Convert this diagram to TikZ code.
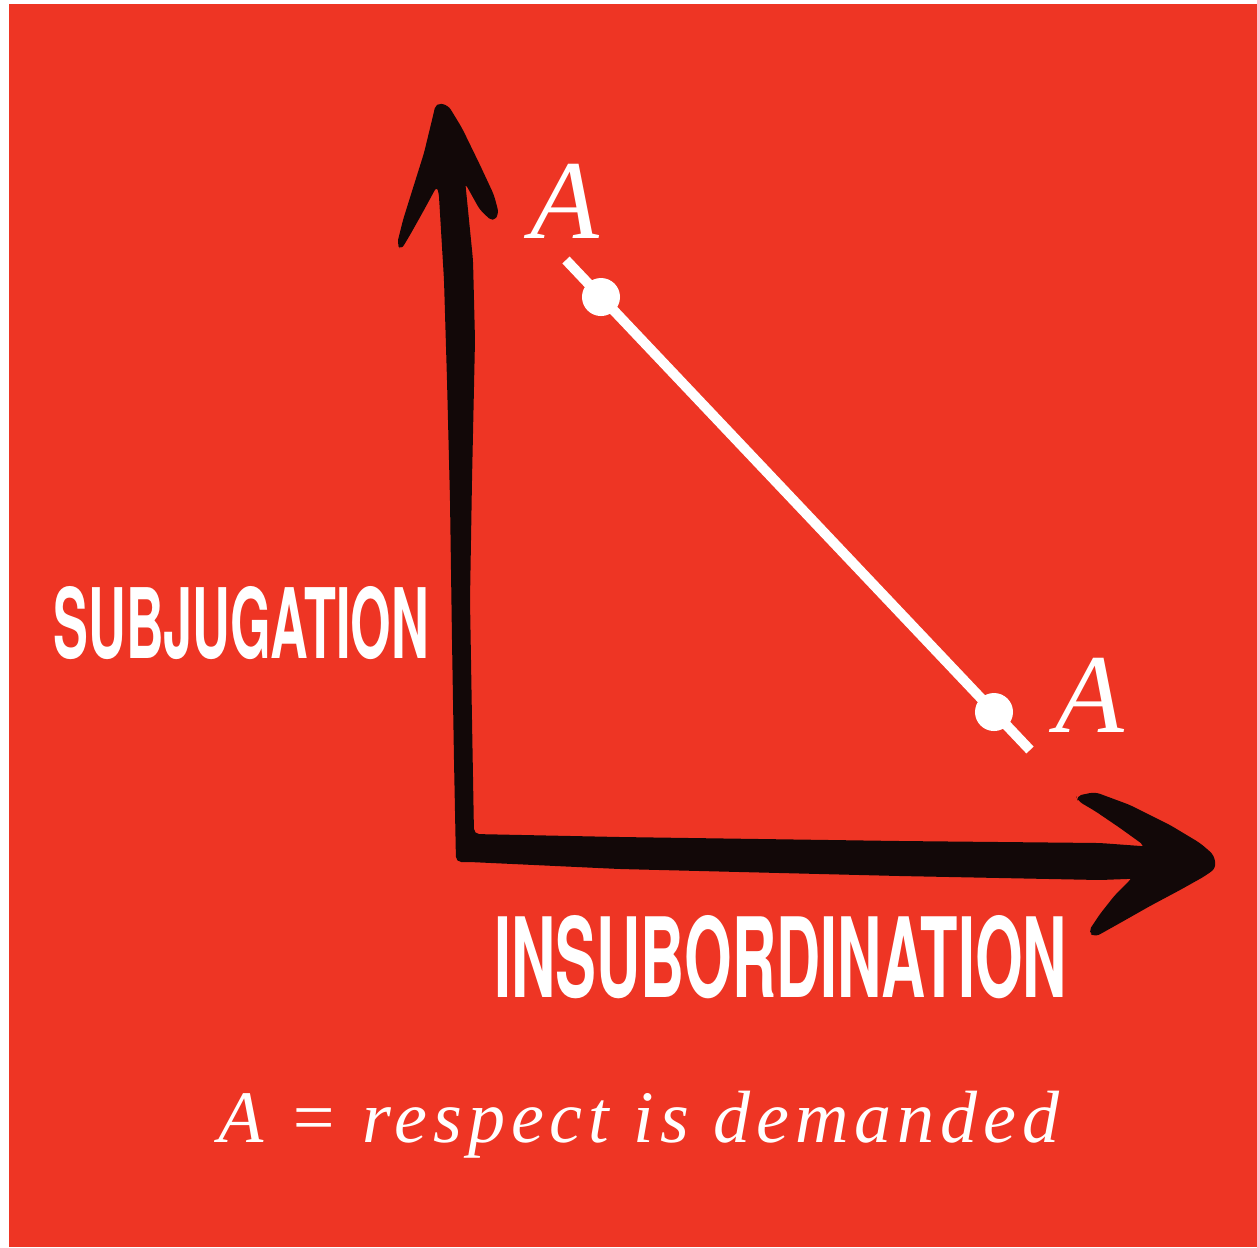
\documentclass[tikz,border=0pt]{standalone}
\usepackage{graphicx}
\usepackage{fontspec}
\setmainfont{Liberation Serif}
\newfontfamily\axisfont{TeX Gyre Heros}
\newfontfamily\capfont{Liberation Serif}[LetterSpace=8]
\usetikzlibrary{positioning}
\definecolor{bgred}{RGB}{238,53,36}
\definecolor{ink}{RGB}{18,8,8}

\begin{document}
\begin{tikzpicture}[x=0.01cm, y=-0.01cm,
  brush/.style={fill=ink, rounded corners=1.5pt},
  ptdot/.style={circle, fill=white, inner sep=0pt, minimum size=0.38cm},
  trend/.style={draw=white, line width=0.1cm},
  letterA/.style={text=white, inner sep=0pt, anchor=base, font=\fontsize{32}{34}\selectfont\itshape},
  axislbl/.style={text=white, inner sep=0pt, anchor=south west, font=\axisfont\bfseries},
  caption/.style={text=white, inner sep=0pt, anchor=base west}
]

% background
\fill[white] (0,0) rectangle (1257,1247);
\fill[bgred] (9,4) rectangle (1257,1247);

% axes, brush strokes
\fill[brush] (456,862) -- (454,760) -- (452,640) -- (450,500) -- (447,380) -- (444,280) -- (438,180) -- (465,180) -- (473,260) -- (475,340)
  -- (472,480) -- (470,600) -- (472,720) -- (474,834) -- (620,837) -- (900,841) -- (1100,843) -- (1195,850) -- (1205,876) -- (1100,880)
  -- (900,876) -- (620,869) -- (470,862) -- cycle;
\fill[brush] (436,103) -- (448,105) -- (462,128) -- (480,165) -- (494,195) -- (499,214) -- (493,222) -- (480,210) -- (465,183) -- (462,200)
  -- (440,200) -- (437,186) -- (424,210) -- (410,235) -- (401,250) -- (397,244) -- (403,220) -- (413,188) -- (424,153) -- (432,120) -- cycle;
\fill[brush] (1076,796) -- (1095,792) -- (1130,805) -- (1170,825) -- (1200,843) -- (1214,855) -- (1216,868) -- (1205,876) -- (1180,890)
  -- (1150,906) -- (1120,923) -- (1095,937) -- (1088,932) -- (1100,914) -- (1115,895) -- (1132,878) -- (1145,846) -- (1120,828)
  -- (1095,811) -- (1078,801) -- cycle;

% trade-off line
\coordinate (top) at (566,260);
\coordinate (bot) at (1030,750);
\draw[trend] (top) -- (bot);
\node[ptdot] (dotA) at (601,297) {};
\node[ptdot] (dotB) at (994,712) {};

\node[letterA] (upA) at (565,238) {A};
\node[letterA] (lowA) at (1090,732) {A};

% axis labels
\node[axislbl] (ylbl) at (53,660) {\resizebox{3.75cm}{0.72cm}{SUBJUGATION}};
\node[axislbl] (xlbl) at (494,1000) {\resizebox{5.72cm}{0.82cm}{INSUBORDINATION}};

\node[caption] (cap) at (218,1142) {\resizebox{8.4cm}{!}{\capfont\itshape A = respect is demanded}};
\end{tikzpicture}
\end{document}
